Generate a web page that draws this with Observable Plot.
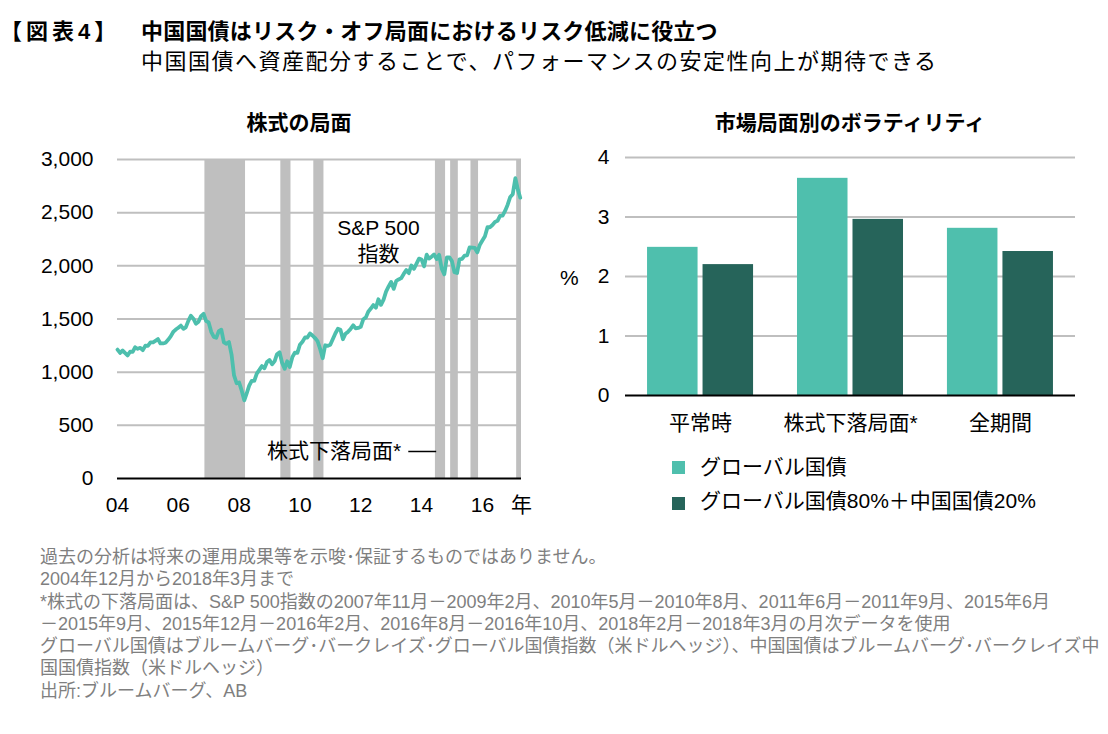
<!DOCTYPE html>
<html><head><meta charset="utf-8">
<script src="https://cdn.jsdelivr.net/npm/d3@7"></script>
<script src="https://cdn.jsdelivr.net/npm/@observablehq/plot@0.6"></script>
<style>
body{margin:0;background:#fff;font-family:"Liberation Sans","Noto Sans CJK JP",sans-serif;color:#000;}
#page{position:relative;width:1108px;height:734px;overflow:hidden;background:#fff;}
.abs{position:absolute;white-space:nowrap;}
.h{font-size:22px;line-height:26px;}
.ct{font-size:21px;font-weight:bold;line-height:26px;transform:translateX(-50%);}
.foot{font-size:18px;color:#7f7f7f;line-height:22.3px;}
.leg{font-size:21px;line-height:26px;}
.sw{position:absolute;width:13px;height:13px;}
</style></head>
<body><div id="page">
<div class="abs h" style="left:0px;top:19px;font-weight:bold;letter-spacing:4px;">【図表4】</div>
<div class="abs h" style="left:141px;top:19px;font-weight:bold;letter-spacing:0.2px;">中国国債はリスク・オフ局面におけるリスク低減に役立つ</div>
<div class="abs h" style="left:141px;top:49px;letter-spacing:1.5px;">中国国債へ資産配分することで、パフォーマンスの安定性向上が期待できる</div>
<div class="abs ct" style="left:299px;top:110px;">株式の局面</div>
<div class="abs ct" style="left:850px;top:110px;">市場局面別のボラティリティ</div>
<div id="left" class="abs" style="left:0;top:140px;"></div>
<div id="right" class="abs" style="left:540px;top:140px;"></div>
<div class="abs leg" style="left:560px;top:265px;">%</div>
<div id="legend"></div>
<div class="abs foot" id="foot" style="left:40px;top:546px;"></div>
</div>
<script>
// ---- Left chart data: S&P 500 monthly (Dec 2004 - Mar 2018) ----
const spStart = "2004-12";
const spEnd = "2018-03";
const sp500 = [
  1212,
  1181,1204,1181,1157,1192,1191,1234,1220,1229,1207,1249,1248,
  1280,1281,1295,1311,1270,1270,1277,1304,1336,1378,1401,1418,
  1438,1407,1421,1482,1531,1503,1455,1474,1527,1549,1481,1468,
  1379,1331,1323,1386,1400,1280,1267,1283,1166,969,896,903,
  826,735,798,873,919,919,987,1021,1057,1036,1096,1115,
  1074,1104,1169,1187,1089,1031,1102,1049,1141,1183,1181,1258,
  1286,1327,1326,1364,1345,1321,1292,1219,1131,1253,1247,1258,
  1312,1366,1408,1398,1310,1362,1379,1407,1441,1412,1416,1426,
  1498,1515,1569,1598,1631,1606,1686,1633,1682,1757,1806,1848,
  1783,1859,1872,1884,1924,1960,1931,2003,1972,2018,2068,2059,
  1995,2105,2068,2086,2107,2063,2104,1972,1920,2079,2080,2044,
  1940,1932,2060,2065,2097,2099,2174,2171,2168,2126,2199,2239,
  2279,2364,2363,2384,2412,2423,2470,2472,2519,2575,2648,2674,
  2824,2714,2641
];
const phaseStart = ["2007-11","2010-05","2011-06","2015-06","2015-12","2016-08","2018-02"];
const phaseEnd   = ["2009-02","2010-08","2011-09","2015-09","2016-02","2016-10","2018-03"];
const xTickMonths = ["2004-12","2006-12","2008-12","2010-12","2012-12","2014-12","2016-12"];
const xTickLabels = ["04","06","08","10","12","14","16"];
const yearLabel = "年";
const yTicksLeft = [0,500,1000,1500,2000,2500,3000];
const spLabel = {month:"2013-07", value:2250, text:"S&P 500\n指数"};
const phaseLabel = {month:"2014-04", value:254, text:"株式下落局面*", lineFrom:"2014-07", lineTo:"2015-06"};

// ---- Right chart data ----
const categories = ["平常時","株式下落局面*","全期間"];
const seriesNames = ["グローバル国債","グローバル国債80%＋中国国債20%"];
const globalVol = [2.49, 3.65, 2.81];
const mixVol = [2.20, 2.96, 2.42];
const yTicksRight = [0,1,2,3,4];
const colors = ["#4fbfad","#26645a"];

const footLines = [
  "過去の分析は将来の運用成果等を示唆･保証するものではありません。",
  "2004年12月から2018年3月まで",
  "*株式の下落局面は、S&P 500指数の2007年11月－2009年2月、2010年5月－2010年8月、2011年6月－2011年9月、2015年6月",
  "－2015年9月、2015年12月－2016年2月、2016年8月－2016年10月、2018年2月－2018年3月の月次データを使用",
  "グローバル国債はブルームバーグ･バークレイズ･グローバル国債指数（米ドルヘッジ）、中国国債はブルームバーグ･バークレイズ中",
  "国国債指数（米ドルヘッジ）",
  "出所:ブルームバーグ、AB"
];

const font = '"Liberation Sans","Noto Sans CJK JP",sans-serif';
const parse = d3.utcParse("%Y-%m");
const start = parse(spStart);
const xEnd = d3.utcDay.offset(parse(spEnd), 15);
const dates = d3.utcMonth.range(start, d3.utcMonth.offset(parse(spEnd), 1));
const spData = dates.map((d, i) => ({date: d, value: sp500[i]}));
const phases = phaseStart.map((s, i) => ({
  x1: d3.utcDay.offset(parse(s), -15),
  x2: d3.utcDay.offset(parse(phaseEnd[i]), 15)
}));
const xTicks = xTickMonths.map(parse).concat([xEnd]);
const labelOf = new Map(xTickMonths.map((m, i) => [+parse(m), xTickLabels[i]]));

const left = Plot.plot({
  width: 545, height: 383,
  marginLeft: 117, marginRight: 24, marginTop: 19, marginBottom: 45,
  style: {fontFamily: font, fontSize: "21px", color: "#000", background: "transparent", overflow: "visible"},
  x: {type: "utc", domain: [start, xEnd], ticks: xTicks, tickFormat: d => +d === +xEnd ? yearLabel : labelOf.get(+d), tickSize: 0, tickPadding: 19, label: null},
  y: {domain: [0, 3000], ticks: yTicksLeft, tickFormat: d3.format(","), tickSize: 0, tickPadding: 24, label: null},
  marks: [
    Plot.ruleY(yTicksLeft.slice(1), {stroke: "#bfbfbf", strokeWidth: 2}),
    Plot.rect(phases, {x1: "x1", x2: "x2", y1: 0, y2: 3000, fill: "#bfbfbf"}),
    Plot.ruleY([0], {stroke: "#000", strokeWidth: 2}),
    Plot.line(spData, {x: "date", y: "value", stroke: "#4dbfad", strokeWidth: 3.8}),
    Plot.text([spLabel], {x: d => parse(d.month), y: "value", text: "text", fontSize: 21, lineHeight: 1.24, fill: "#000"}),
    Plot.text([phaseLabel], {x: d => parse(d.month), y: "value", text: "text", fontSize: 21, textAnchor: "end", fill: "#000"}),
    Plot.ruleY([phaseLabel], {y: "value", x1: d => parse(d.lineFrom), x2: d => parse(d.lineTo), stroke: "#000", strokeWidth: 1.5})
  ]
});
document.getElementById("left").appendChild(left);

const rowsA = categories.map((c, i) => ({cat: c, v: globalVol[i]}));
const rowsB = categories.map((c, i) => ({cat: c, v: mixVol[i]}));
const right = Plot.plot({
  width: 568, height: 300,
  marginLeft: 85, marginRight: 33, marginTop: 17, marginBottom: 45,
  style: {fontFamily: font, fontSize: "21px", color: "#000", background: "transparent", overflow: "visible"},
  x: {domain: categories, paddingInner: 0.293, paddingOuter: 0.147, round: false, tickSize: 0, tickPadding: 20, label: null},
  y: {domain: [0, 4], ticks: yTicksRight, tickFormat: d3.format("d"), tickSize: 0, tickPadding: 16, label: null},
  marks: [
    Plot.ruleY(yTicksRight.slice(1), {stroke: "#bfbfbf", strokeWidth: 2}),
    Plot.barY(rowsA, {x: "cat", y: "v", fill: colors[0], insetRight: 55.5}),
    Plot.barY(rowsB, {x: "cat", y: "v", fill: colors[1], insetLeft: 55.5}),
    Plot.ruleY([0], {stroke: "#000", strokeWidth: 2})
  ]
});
document.getElementById("right").appendChild(right);

// legend
const legend = document.getElementById("legend");
seriesNames.forEach((name, i) => {
  const sw = document.createElement("div");
  sw.className = "sw";
  sw.style.left = "672px";
  sw.style.top = (461 + i * 36) + "px";
  sw.style.background = colors[i];
  legend.appendChild(sw);
  const t = document.createElement("div");
  t.className = "abs leg";
  t.style.left = "700px";
  t.style.top = (454 + i * 34) + "px";
  t.textContent = name;
  legend.appendChild(t);
});

const foot = document.getElementById("foot");
footLines.forEach(l => {
  const d = document.createElement("div");
  d.textContent = l;
  foot.appendChild(d);
});
</script>
</body></html>
